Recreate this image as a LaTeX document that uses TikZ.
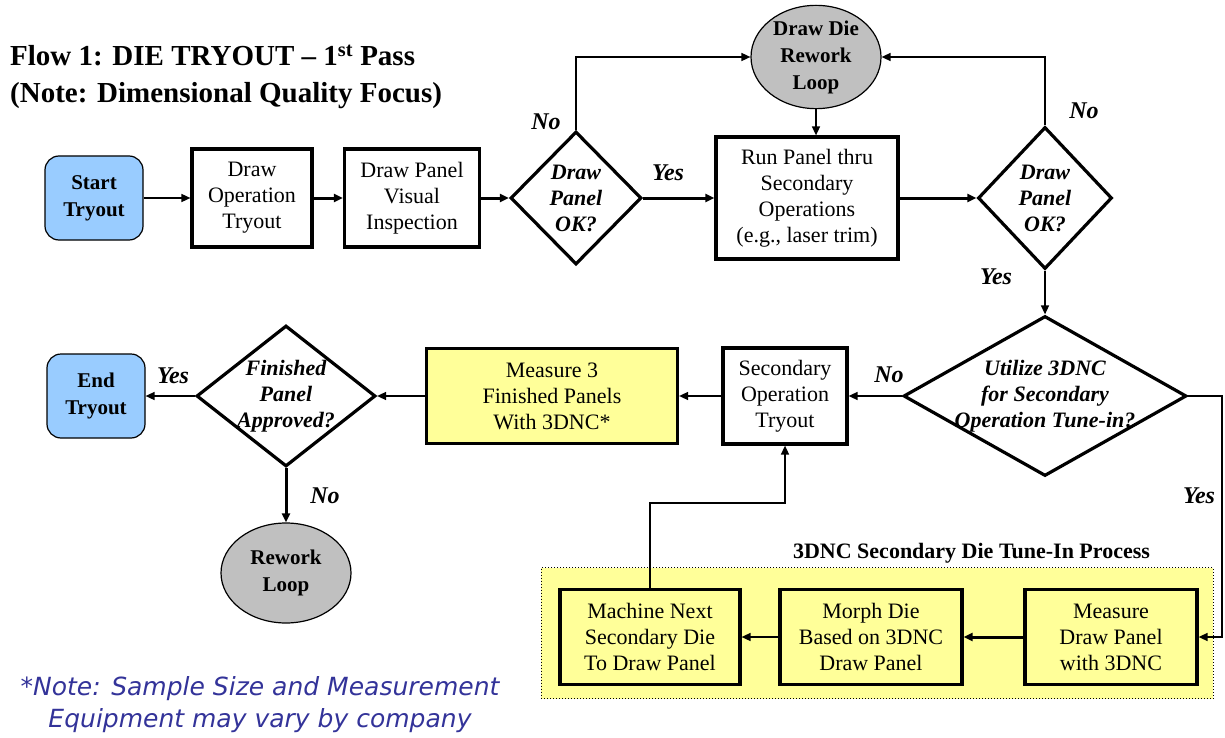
\documentclass[tikz,border=0pt]{standalone}
\usepackage{fontspec}
\setmainfont{Liberation Serif}
\newfontfamily\notefont{DejaVu Sans}
\usetikzlibrary{shapes.geometric,arrows.meta,positioning}

\definecolor{termblue}{HTML}{99CCFF}
\definecolor{padyellow}{HTML}{FFFF99}
\definecolor{loopgray}{HTML}{C0C0C0}
\definecolor{noteblue}{HTML}{333399}

\tikzset{
  box/.style={draw,line width=3.2pt,align=center,inner sep=2pt,
    font=\fontsize{22}{26}\selectfont},
  ybox/.style={box,fill=padyellow},
  term/.style={draw,line width=1.2pt,rounded corners=14pt,fill=termblue,
    align=center,minimum width=98pt,minimum height=84pt,
    font=\fontsize{21}{27}\selectfont\bfseries},
  reworkloop/.style={ellipse,draw,line width=1.2pt,fill=loopgray,
    align=center,minimum width=130pt,minimum height=100pt,inner sep=0pt,
    font=\fontsize{21}{27}\selectfont\bfseries},
  decision/.style={diamond,draw,line width=3.2pt,inner sep=0pt},
  ask/.style={align=center,font=\fontsize{22}{26}\selectfont\bfseries\itshape},
  ans/.style={font=\fontsize{24}{28}\selectfont\bfseries\itshape},
  flowthin/.style={line width=1.5pt},
  flowthick/.style={line width=3pt},
  >={Triangle[length=9pt,width=8pt]}
}

\begin{document}
\begin{tikzpicture}[x=1pt,y=-1pt]
    \useasboundingbox (0,0) rectangle (1225,738);

    % Title
    \node[anchor=north west,align=left,inner sep=0pt,
      font=\fontsize{29}{37}\selectfont\bfseries] (title) at (10,45)
      {Flow 1: DIE TRYOUT -- 1\textsuperscript{st} Pass\\(Note: Dimensional Quality Focus)};

    % Top row
    \node[term] (start) at (94,198) {Start\\Tryout};
    \node[box,minimum width=120pt,minimum height=98pt] (drawop) at (252,198) {Draw\\Operation\\Tryout};
    \node[box,minimum width=135pt,minimum height=98pt] (visual) at (412,198) {Draw Panel\\Visual\\Inspection};
    \node[decision,minimum width=131pt,minimum height=133pt,
      label={[ask]center:{Draw\\Panel\\OK?}}] (chk1) at (576,198) {};
    \node[reworkloop] (drawdie) at (816,57) {Draw Die\\Rework\\Loop};
    \node[box,minimum width=182pt,minimum height=122pt] (runsec) at (807,198)
      {Run Panel thru\\Secondary\\Operations\\(e.g., laser trim)};
    \node[decision,minimum width=134pt,minimum height=142pt,
      label={[ask]center:{Draw\\Panel\\OK?}}] (chk2) at (1045,198) {};

    % Middle row
    \node[decision,minimum width=283pt,minimum height=160pt,
      label={[ask]center:{Utilize 3DNC\\for Secondary\\Operation Tune-in?}}] (tunechk) at (1045,396) {};
    \node[box,minimum width=124pt,minimum height=96pt] (secop) at (785,396) {Secondary\\Operation\\Tryout};
    \node[ybox,minimum width=251pt,minimum height=95pt] (meas3) at (552,396) {Measure 3\\Finished Panels\\With 3DNC*};
    \node[decision,minimum width=179pt,minimum height=141pt,
      label={[ask]center:{Finished\\Panel\\Approved?}}] (finchk) at (286,396) {};
    \node[term] (endtry) at (96,396) {End\\Tryout};
    \node[reworkloop] (rework) at (286,573) {Rework\\Loop};

    % 3DNC tune-in group
    \node[draw,dotted,line width=1pt,fill=padyellow,minimum width=672pt,minimum height=131pt]
      (tunein) at (877,633) {};
    \node[font=\fontsize{22}{24}\selectfont\bfseries,above=0pt of tunein.north east,anchor=south east,xshift=-60pt]
      (tuneinlbl) {3DNC Secondary Die Tune-In Process};
    \node[box,minimum width=180pt,minimum height=95pt] (machine) at (650,637) {Machine Next\\Secondary Die\\To Draw Panel};
    \node[box,minimum width=182pt,minimum height=95pt] (morph) at (871,637) {Morph Die\\Based on 3DNC\\Draw Panel};
    \node[box,minimum width=172pt,minimum height=95pt] (measdraw) at (1111,637) {Measure\\Draw Panel\\with 3DNC};

    \coordinate (yesbend) at (1222,396);
    \coordinate (backup) at (720,503);

    % Connectors
    \draw[flowthin,->] (start) -- (drawop);
    \draw[flowthick,->] (drawop) -- (visual);
    \draw[flowthick,->] (visual) -- (chk1);
    \draw[flowthick,->] (chk1) -- (runsec);
    \draw[flowthin,->] (chk1.north) |- (drawdie.west);
    \draw[flowthin,->] (drawdie.south) -- (drawdie.south |- runsec.north);
    \draw[flowthick,->] (runsec) -- (chk2);
    \draw[flowthin,->] (chk2.north) |- (drawdie.east);
    \draw[flowthin,->] (chk2) -- (tunechk);
    \draw[flowthin,->] (tunechk) -- (secop);
    \draw[flowthin,->] (tunechk.east) -- (yesbend) |- (measdraw.east);
    \draw[flowthick,->] (measdraw) -- (morph);
    \draw[flowthin,->] (morph) -- (machine);
    \draw[flowthin,->] (machine.north) |- (backup) -| (secop.south);
    \draw[flowthin,->] (secop) -- (meas3);
    \draw[flowthin,->] (meas3) -- (finchk);
    \draw[flowthin,->] (finchk) -- (endtry);
    \draw[flowthick,->] (finchk) -- (rework);

    % Answers
    \node[ans] (no1) at (546,122) {No};
    \node[ans] (yes1) at (668,173) {Yes};
    \node[ans] (no2) at (1084,111) {No};
    \node[ans] (yes2) at (996,277) {Yes};
    \node[ans] (no3) at (889,375) {No};
    \node[ans] (yes3) at (1199,496) {Yes};
    \node[ans] (yes4) at (173,376) {Yes};
    \node[ans] (no4) at (325,496) {No};

    % Footnote
    \node[align=center,text=noteblue,font=\notefont\itshape\fontsize{25}{32}\selectfont]
      (note) at (260,705) {*Note: Sample Size and Measurement\\Equipment may vary by company};
\end{tikzpicture}
\end{document}
